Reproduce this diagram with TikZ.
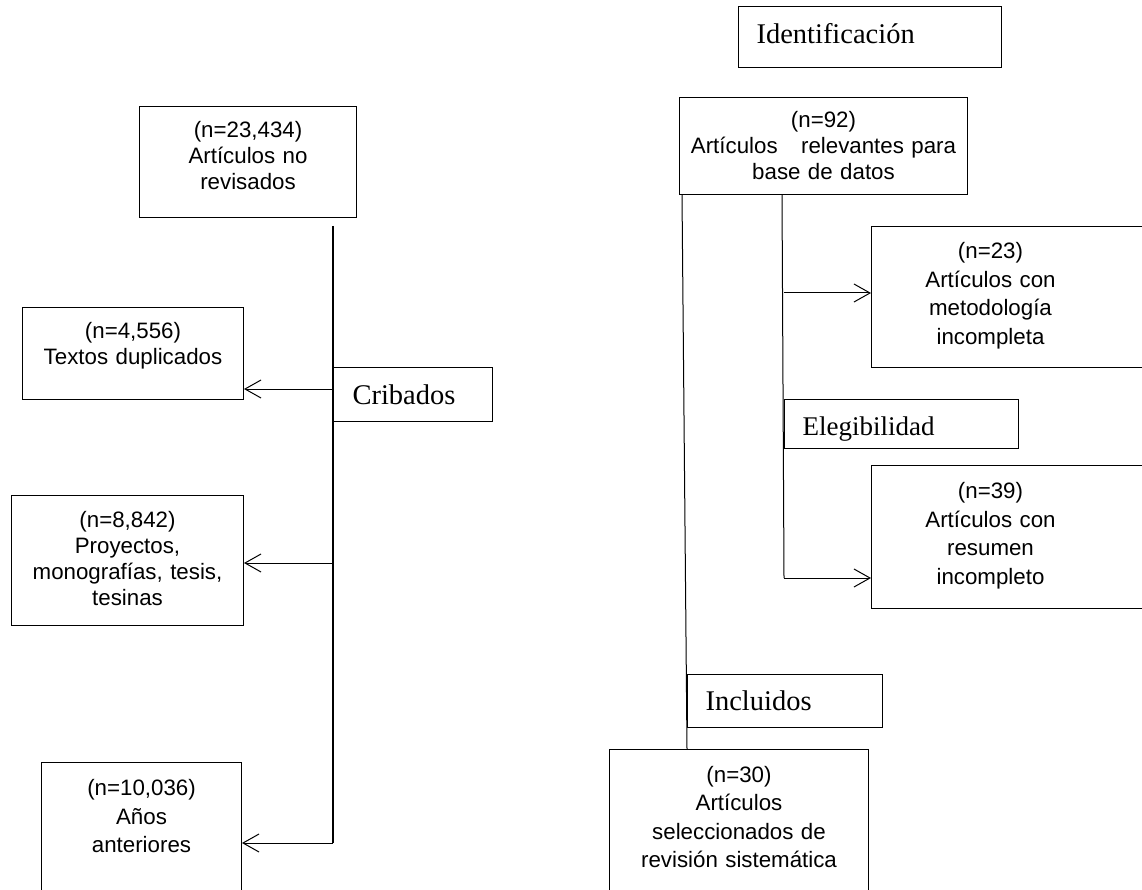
\documentclass[tikz,border=0pt]{standalone}
\usepackage{fontspec}
\setmainfont{Liberation Serif}
\setsansfont{Liberation Sans}
\usetikzlibrary{arrows.meta}

\tikzset{
  caja/.style={draw, line width=1pt, align=center, inner ysep=0pt,
    inner xsep=6pt, font=\sffamily\fontsize{22.3}{26}\selectfont},
  cajaalta/.style={caja, font=\sffamily\fontsize{22.3}{28.5}\selectfont},
  etapa/.style={draw, line width=1pt, align=left, inner ysep=0pt,
    inner xsep=18pt, font=\rmfamily\fontsize{28.5}{34}\selectfont},
  linea/.style={line width=1pt},
  flecha/.style={line width=1pt, -{Straight Barb[length=16pt,width=18pt]}}
}

\begin{document}
\begin{tikzpicture}[x=1pt, y=-1pt]
  \useasboundingbox (0,0) rectangle (1142,890);
  \clip (0,0) rectangle (1142,890);

  \node[caja, anchor=north west, text width=205pt, text height=30.7pt,
    text depth=80.3pt] (norev) at (139,106) {(n=23,434)\\Artículos no\\revisados};
  \node[caja, anchor=north west, text width=209pt, text height=31.3pt,
    text depth=60.7pt] (dup) at (22,307) {(n=4,556)\\Textos duplicados};
  \node[caja, anchor=north west, text width=220pt, text height=31.7pt,
    text depth=98.3pt] (proy) at (11,495)
    {(n=8,842)\\Proyectos,\\monografías, tesis,\\tesinas};
  \node[cajaalta, anchor=north west, text width=188pt, text height=33pt,
    text depth=125pt] (anios) at (41,762) {(n=10,036)\\Años\\anteriores};
  \node[etapa, anchor=north west, inner xsep=19pt, text width=121pt,
    text height=37pt, text depth=17pt] (crib) at (333,367) {Cribados};

  \node[etapa, anchor=north west, text width=227pt, text height=37pt,
    text depth=24pt] (ident) at (738,6) {Identificación};
  \node[caja, anchor=north west, text width=276pt, text height=29.7pt,
    text depth=67.3pt] (relev) at (679,97)
    {(n=92)\\Artículos\hspace{16pt} relevantes para\\base de datos};
  \node[cajaalta, anchor=north west, inner xsep=0pt, align=left,
    text width=290pt, text height=32.3pt, text depth=108.7pt] (metod) at (871,226)
    {\parbox[t]{238pt}{\centering (n=23)\\Artículos con\\metodología\\incompleta}};
  \node[etapa, anchor=north west, font=\rmfamily\fontsize{27}{32}\selectfont,
    text width=198pt, text height=36pt, text depth=13pt] (eleg) at (784,399)
    {Elegibilidad};
  \node[cajaalta, anchor=north west, inner xsep=0pt, align=left,
    text width=290pt, text height=33.3pt, text depth=109.7pt] (resum) at (871,465)
    {\parbox[t]{238pt}{\centering (n=39)\\Artículos con\\resumen\\incompleto}};
  \node[etapa, anchor=north west, text width=159pt, text height=36pt,
    text depth=17pt] (incl) at (687,674) {Incluidos};
  \node[cajaalta, anchor=north west, text width=247pt, text height=32.7pt,
    text depth=138.3pt] (selec) at (609,749)
    {(n=30)\\Artículos\\seleccionados de\\revisión sistemática};

  \coordinate (tronco) at (333,226);
  \coordinate (t1) at (333,389);
  \coordinate (t2) at (333,563);
  \coordinate (t3) at (333,843);
  \draw[linea, line width=1.6pt] (tronco) -- (t3);
  \draw[flecha] (t1) -- (t1 -| dup.east);
  \draw[flecha] (t2) -- (t2 -| proy.east);
  \draw[flecha] (t3) -- (t3 -| anios.east);

  \draw[linea] ([xshift=3pt]relev.south west) -- (incl.west |- selec.north);
  \coordinate (rama) at ([xshift=103pt]relev.south west);
  \coordinate (r1) at (784,293);
  \coordinate (r2) at (784,578);
  \draw[linea] (rama) -- (r2);
  \draw[flecha] (r1) -- (r1 -| metod.west);
  \draw[flecha] (r2) -- (r2 -| resum.west);
\end{tikzpicture}
\end{document}
